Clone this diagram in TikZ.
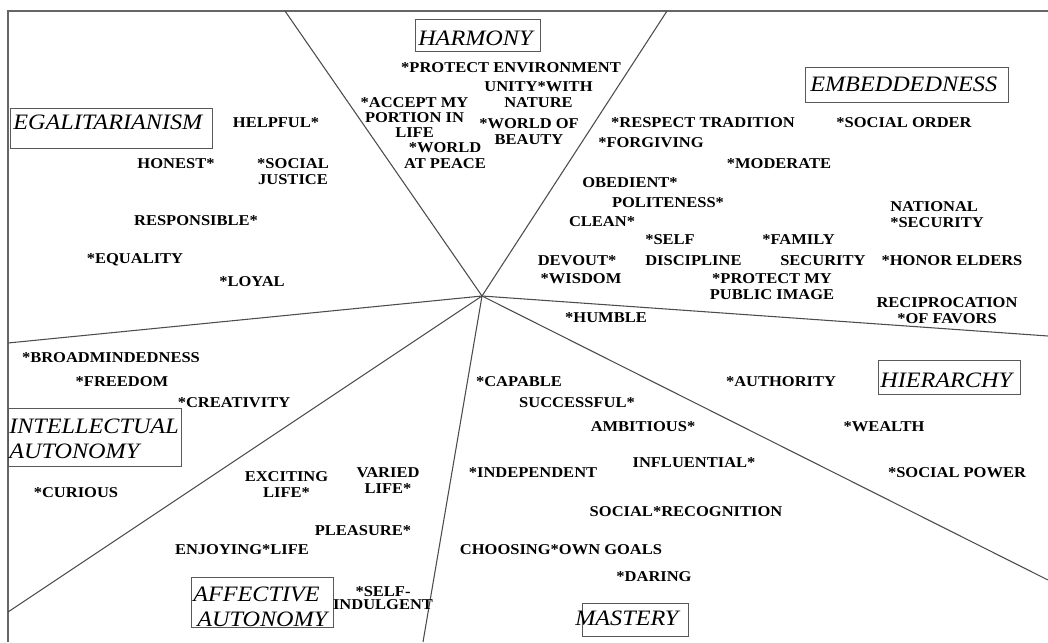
\documentclass[tikz,border=0pt]{standalone}
\usepackage{fontspec}
\setmainfont{Liberation Serif}[FakeStretch=1.1]
\begin{document}
\begin{tikzpicture}[x=0.75pt,y=-0.75pt,
  divider/.style={draw=black!70, line width=0.8pt},
  frameline/.style={draw=black!60, line width=0.8pt},
  value/.style={font=\fontsize{11.25pt}{12pt}\selectfont\bfseries, inner sep=0pt, align=center},
  catbox/.style={draw=black!65, line width=0.7pt, inner sep=0pt},
  cattext/.style={font=\fontsize{16.5pt}{18.75pt}\selectfont\itshape, inner sep=0pt, anchor=west, align=left},
]
\useasboundingbox (0,0) rectangle (1048,642);

% frame (top and left edges only)
\coordinate (ftl) at (8,11);
\coordinate (ftr) at (1048,11);
\coordinate (fbl) at (8,642);
\draw[frameline] (fbl) -- (ftl) -- (ftr);

% centre of the value map and the ends of the dividing lines
\coordinate (c) at (482,296);
\coordinate (eTL) at (285,11);
\coordinate (eTR) at (667,11);
\coordinate (eR) at (1048,336);
\coordinate (eL) at (8,343);
\coordinate (eLL) at (8,612);
\coordinate (eB) at (423,642);
\coordinate (eLR) at (1048,580);
\foreach \e in {eTL,eTR,eR,eL,eLL,eB,eLR} \draw[divider] (c) -- (\e);

% category boxes
\node[catbox, minimum width=151.5pt, minimum height=30pt] (egalbox) at (111,128) {};
\node[catbox, minimum width=93.75pt, minimum height=24pt] (harmbox) at (477.5,35.5) {};
\node[catbox, minimum width=152.25pt, minimum height=26.25pt] (embbox) at (906.5,84.5) {};
\node[catbox, minimum width=129.75pt, minimum height=43.5pt] (intbox) at (94.5,437) {};
\node[catbox, minimum width=106.5pt, minimum height=37.5pt] (affbox) at (262,602) {};
\node[catbox, minimum width=106.5pt, minimum height=25.5pt] (hierbox) at (949,377) {};
\node[catbox, minimum width=79.5pt, minimum height=24.75pt] (mastbox) at (635,619.5) {};

% category names
\node[cattext] (egal) at (13,122) {EGALITARIANISM};
\node[cattext] (harm) at (418,38.7) {HARMONY};
\node[cattext] (emb) at (810,84.5) {EMBEDDEDNESS};
\node[cattext] (int) at (9,438.5) {INTELLECTUAL\\AUTONOMY};
\node[cattext] (aff) at (193,606.5) {AFFECTIVE\\\hspace*{3pt}AUTONOMY};
\node[cattext] (hier) at (880,380) {HIERARCHY};
\node[cattext] (mast) at (575,618) {MASTERY};

% egalitarianism values
\node[value] (helpful) at (276,123) {HELPFUL*};
\node[value] (honest) at (176,164) {HONEST*};
\node[value] (socjust) at (293,172) {*SOCIAL\\JUSTICE};
\node[value] (responsible) at (196,221) {RESPONSIBLE*};
\node[value] (equality) at (135,260) {*EQUALITY};
\node[value] (loyal) at (252,282) {*LOYAL};

% harmony values
\node[value] (protenv) at (511,68) {*PROTECT ENVIRONMENT};
\node[value] (unity) at (538.5,95) {UNITY*WITH\\NATURE};
\node[value, font=\fontsize{11.25pt}{11.6pt}\selectfont\bfseries] (accept) at (414.5,117.5) {*ACCEPT MY\\PORTION IN\\LIFE};
\node[value] (beauty) at (529,131.5) {*WORLD OF\\BEAUTY};
\node[value] (peace) at (445,156) {*WORLD\\AT PEACE};

% embeddedness values
\node[value] (tradition) at (703,123) {*RESPECT TRADITION};
\node[value] (forgiving) at (651,143) {*FORGIVING};
\node[value] (socorder) at (904,123) {*SOCIAL ORDER};
\node[value] (moderate) at (779,164) {*MODERATE};
\node[value] (obedient) at (630,183) {OBEDIENT*};
\node[value] (politeness) at (668,203) {POLITENESS*};
\node[value] (clean) at (602,222) {CLEAN*};
\node[value, anchor=west, align=left] (natsec) at (890,214.5) {NATIONAL\\*SECURITY};
\node[value, anchor=west, align=left] (selfdisc) at (645,250.5) {*SELF\\[3.75pt]DISCIPLINE};
\node[value, anchor=west, align=left] (famsec) at (762,250.5) {*FAMILY\\[3.75pt]\hspace*{13.5pt}SECURITY};
\node[value] (honor) at (952,261) {*HONOR ELDERS};
\node[value] (devout) at (577,261) {DEVOUT*};
\node[value] (wisdom) at (581,279) {*WISDOM};
\node[value] (pubimage) at (772,287) {*PROTECT MY\\PUBLIC IMAGE};
\node[value] (reciprocation) at (947,310.5) {RECIPROCATION\\*OF FAVORS};
\node[value] (humble) at (606,318) {*HUMBLE};

% intellectual autonomy values
\node[value] (broad) at (111,358) {*BROADMINDEDNESS};
\node[value] (freedom) at (122,382) {*FREEDOM};
\node[value] (creativity) at (234,403) {*CREATIVITY};
\node[value] (curious) at (76,493) {*CURIOUS};

% affective autonomy values
\node[value] (exciting) at (286.5,485) {EXCITING\\LIFE*};
\node[value] (varied) at (388,481) {VARIED\\LIFE*};
\node[value] (pleasure) at (363,531) {PLEASURE*};
\node[value] (enjoying) at (242,550) {ENJOYING*LIFE};
\node[value] (indulgent) at (383,598) {*SELF-\\[-2pt]INDULGENT};

% mastery values
\node[value] (capable) at (519,382) {*CAPABLE};
\node[value] (successful) at (577,403) {SUCCESSFUL*};
\node[value] (ambitious) at (643,427) {AMBITIOUS*};
\node[value] (influential) at (694,463) {INFLUENTIAL*};
\node[value] (independent) at (533,473) {*INDEPENDENT};
\node[value] (recognition) at (686,512) {SOCIAL*RECOGNITION};
\node[value] (goals) at (561,550) {CHOOSING*OWN GOALS};
\node[value] (daring) at (654,577) {*DARING};

% hierarchy values
\node[value] (authority) at (781,382) {*AUTHORITY};
\node[value] (wealth) at (884,427) {*WEALTH};
\node[value] (socpower) at (957,473) {*SOCIAL POWER};
\end{tikzpicture}
\end{document}
